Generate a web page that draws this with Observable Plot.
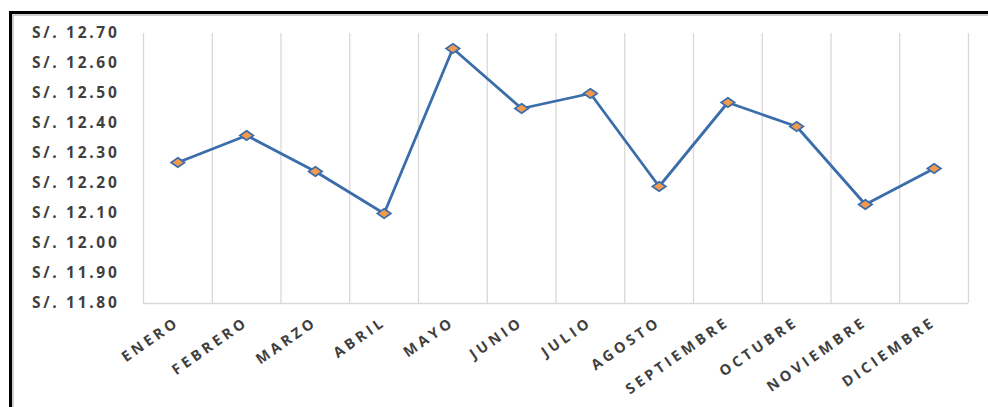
<!DOCTYPE html>
<html>
<head>
<meta charset="utf-8">
<script src="https://cdn.jsdelivr.net/npm/d3@7"></script>
<script src="https://cdn.jsdelivr.net/npm/@observablehq/plot@0.6"></script>
<style>
  html, body { margin: 0; padding: 0; background: #fff; }
  #wrap { position: relative; width: 988px; height: 407px; overflow: hidden; }
  #frame { position: absolute; left: 9px; top: 11px; width: 1000px; height: 420px;
           border-left: 3px solid #000; border-top: 3px solid #000;
           box-shadow: inset 2px 2px 0 #cfcfcf; pointer-events: none; }
  g[aria-label="y-axis tick label"] text { letter-spacing: 2.7px; }
  g[aria-label="x-axis tick label"] text { letter-spacing: 3.5px; }
</style>
</head>
<body>
<div id="wrap"><div id="frame"></div></div>
<script>
const months = ["ENERO", "FEBRERO", "MARZO", "ABRIL", "MAYO", "JUNIO", "JULIO",
                "AGOSTO", "SEPTIEMBRE", "OCTUBRE", "NOVIEMBRE", "DICIEMBRE"];
const prices = [12.27, 12.36, 12.24, 12.10, 12.65, 12.45, 12.50,
                12.19, 12.47, 12.39, 12.13, 12.25];
const yTicks = [11.80, 11.90, 12.00, 12.10, 12.20, 12.30, 12.40, 12.50, 12.60, 12.70];

const data = months.map((m, i) => ({month: m, idx: i + 0.5, price: prices[i]}));
const boundaries = d3.range(months.length + 1);

// wide diamond marker
const wideDiamond = {
  draw(ctx, size) {
    const w = 6.8, h = 4.8;
    ctx.moveTo(0, -h);
    ctx.lineTo(w, 0);
    ctx.lineTo(0, h);
    ctx.lineTo(-w, 0);
    ctx.closePath();
  }
};

const chart = Plot.plot({
  width: 988,
  height: 407,
  marginLeft: 143,
  marginRight: 20,
  marginTop: 33,
  marginBottom: 104,
  style: {fontFamily: "'Open Sans', sans-serif", background: "transparent"},
  x: {type: "linear", domain: [0, months.length]},
  y: {domain: [11.8, 12.7]},
  marks: [
    Plot.ruleX(boundaries, {y1: 11.8, y2: 12.7, stroke: "#d9d9d9", strokeWidth: 1.3}),
    Plot.ruleY([11.8], {stroke: "#d9d9d9", strokeWidth: 1.5}),
    Plot.axisY({
      ticks: yTicks, tickSize: 0, tickPadding: 24,
      tickFormat: d => "S/. " + d.toFixed(2),
      fontSize: 15.5, fontWeight: "bold", fill: "#3f3f3f", label: null
    }),
    Plot.axisX({
      ticks: data.map(d => d.idx), tickSize: 0, tickPadding: 17, tickRotate: -35,
      tickFormat: v => months[Math.floor(v)],
      fontSize: 14.5, fontWeight: "bold", fill: "#3f3f3f", label: null
    }),
    Plot.line(data, {x: "idx", y: "price", stroke: "#3b6dab", strokeWidth: 2.8}),
    Plot.dot(data, {x: "idx", y: "price", symbol: wideDiamond, r: 5,
                    fill: "#f39a4c", stroke: "#3b6dab", strokeWidth: 1.7})
  ]
});

document.getElementById("wrap").prepend(chart);
</script>
</body>
</html>
